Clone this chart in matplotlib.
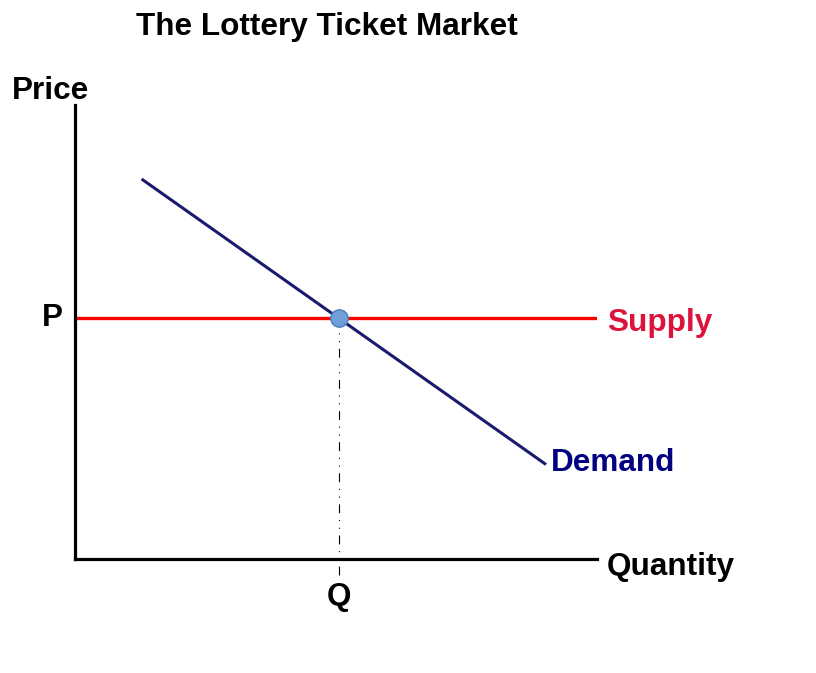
import matplotlib
matplotlib.use("Agg")
import matplotlib.pyplot as plt

plt.rcParams['font.family'] = ['Liberation Sans', 'DejaVu Sans']

# market data (arbitrary units)
supply_x = [0, 10]
supply_p = 5.3
demand_x = [1.3, 9.0]
demand_y = [8.35, 2.1]
eq_q = 5.05
eq_p = 5.3

fs = 22.7

fig = plt.figure(figsize=(8.16, 6.73), dpi=100)
ax = fig.add_axes([0.0919, 0.1694, 0.6397, 0.6746])
ax.set_xlim(0, 10)
ax.set_ylim(0, 10)

for s in ["top", "right"]:
    ax.spines[s].set_visible(False)
ax.spines["left"].set_linewidth(2.3)
ax.spines["bottom"].set_linewidth(2.3)
ax.set_xticks([])
ax.set_yticks([])

# guide lines to the equilibrium
ax.plot([eq_q, eq_q], [-0.35, eq_p], color="black", lw=0.8,
        linestyle=(0, (8, 6, 1, 6, 1, 6)), clip_on=False, zorder=1)
ax.plot([0, eq_q], [eq_p, eq_p], color="black", lw=0.8,
        linestyle=(0, (8, 6, 1, 6, 1, 6)), zorder=1)

# supply and demand
ax.plot(supply_x, [supply_p, supply_p], color="red", lw=2.4, zorder=2)
ax.plot(demand_x, demand_y, color="#1a1a6e", lw=2.2, zorder=3)

# equilibrium point
ax.plot(eq_q, eq_p, "o", ms=12.5, color="#6f9fd6", mec="#4a7ebb", mew=1,
        zorder=4, clip_on=False)

# labels
ax.text(10.19, supply_p - 0.1, "Supply", color="crimson", fontsize=fs,
        fontweight="bold", ha="left", va="center", clip_on=False)
ax.text(9.12, 2.12, "Demand", color="navy", fontsize=fs,
        fontweight="bold", ha="left", va="center", clip_on=False)
ax.text(10.19, -0.18, "Quantity", color="black", fontsize=fs,
        fontweight="bold", ha="left", va="center", clip_on=False)
ax.text(eq_q, -0.83, "Q", color="black", fontsize=fs,
        fontweight="bold", ha="center", va="center", clip_on=False)
ax.text(-0.44, eq_p, "P", color="black", fontsize=fs,
        fontweight="bold", ha="center", va="center", clip_on=False)
ax.text(-1.21, 10.31, "Price", color="black", fontsize=fs,
        fontweight="bold", ha="left", va="center", clip_on=False)

fig.text(0.40, 0.96, "The Lottery Ticket Market", fontsize=fs,
         fontweight="bold", ha="center", va="center")

fig.savefig("out.png", dpi=100)
